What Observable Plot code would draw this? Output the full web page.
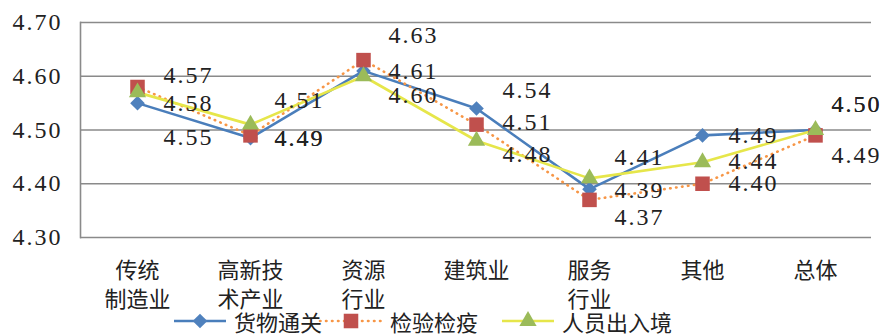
<!DOCTYPE html>
<html>
<head>
<meta charset="utf-8">
<script src="https://cdn.jsdelivr.net/npm/d3@7"></script>
<script src="https://cdn.jsdelivr.net/npm/@observablehq/plot@0.6"></script>
<style>
  html, body { margin: 0; padding: 0; background: #fff; }
  #wrap { position: relative; width: 884px; height: 335px; overflow: hidden; }
  #chart svg { overflow: visible; }
  #legend { position: absolute; left: 0; top: 306px; width: 884px; height: 29px; font-family: "Noto Sans CJK SC", sans-serif; font-size: 22px; color: #222; }
  #legend .item { position: absolute; top: 0; height: 29px; display: flex; align-items: center; }
  #legend svg { display: block; }
  #legend span { margin-left: 6px; line-height: 1; }
</style>
</head>
<body>
<div id="wrap">
  <div id="chart"></div>
  <div id="legend"></div>
</div>
<script>
// ---- data ----
const categories = ["传统\n制造业", "高新技\n术产业", "资源\n行业", "建筑业", "服务\n行业", "其他", "总体"];
const seriesNames = ["货物通关", "检验检疫", "人员出入境"];
const goodsClearance = [4.55, 4.485, 4.61, 4.54, 4.39, 4.49, 4.50];
const inspectionQuarantine = [4.58, 4.49, 4.63, 4.51, 4.37, 4.40, 4.49];
const personnelEntryExit = [4.57, 4.51, 4.60, 4.48, 4.41, 4.44, 4.50];
const yTicks = [4.30, 4.40, 4.50, 4.60, 4.70];

// ---- label layout (pixel offsets, not data) ----
const labelDx = [26, 24, 25, 26, 25, 26, 16];
const labelDy = [
  [34, 0, 0, -18, 1, 0, -26],
  [16, 3, -25, -2, 17, 0, 20],
  [-17, -24, 19, 14, -21, -1, -26]
];

const styles = [
  {stroke: "#4A7EBB", dash: null, symbol: "diamond2", fill: "#4F81BD", r: 6.6},
  {stroke: "#F79646", dash: "0.5 5.5", symbol: "square", fill: "#C0504D", r: 8.2},
  {stroke: "#E6E64A", dash: null, symbol: "triangle", fill: "#9BBB59", r: 6.4}
];

const valuesBySeries = [goodsClearance, inspectionQuarantine, personnelEntryExit];
const rows = valuesBySeries.map((vals, s) =>
  categories.map((c, i) => ({series: seriesNames[s], s, i, cat: c, value: vals[i],
    dx: labelDx[i], dy: labelDy[s][i]})));

const fmt = d3.format(".2f");
const numFont = "Liberation Serif";
const cjkFont = "Noto Sans CJK SC";

const marks = [
  Plot.gridY(yTicks, {stroke: "#8A8A8A", strokeOpacity: 1, strokeWidth: 1.6}),
  Plot.frame({anchor: "left", stroke: "#8A8A8A", strokeWidth: 1.6}),
  Plot.axisY(yTicks, {tickSize: 0, tickPadding: 18, fontSize: 24, fontFamily: numFont, fill: "#222", tickFormat: fmt}),
  Plot.axisX({tickSize: 0, tickPadding: 20, fontSize: 22, fontFamily: cjkFont, fill: "#222", lineHeight: 1.32, lineAnchor: "top"})
];

rows.forEach((data, s) => {
  const st = styles[s];
  marks.push(Plot.line(data, {x: "cat", y: "value", stroke: st.stroke, strokeWidth: 2.6,
    strokeDasharray: st.dash || undefined, strokeLinecap: s === 1 ? "round" : "butt"}));
});
rows.forEach((data, s) => {
  const st = styles[s];
  marks.push(Plot.dot(data, {x: "cat", y: "value", symbol: () => st.symbol, fill: st.fill, stroke: "none", r: st.r}));
});
rows.forEach((data, s) => {
  data.forEach(d => {
    marks.push(Plot.text([d], {x: "cat", y: "value", text: d => fmt(d.value), dx: d.dx, dy: d.dy,
      textAnchor: "start", fontSize: 24, fontFamily: numFont, fill: "#222"}));
  });
});

const chart = Plot.plot({
  width: 884,
  height: 308,
  marginLeft: 80,
  marginRight: 13,
  marginTop: 22,
  marginBottom: 71,
  style: {background: "#fff", color: "#222", overflow: "visible"},
  x: {type: "point", domain: categories, padding: 0.5, label: null},
  y: {domain: [4.3, 4.7], label: null},
  marks
});
document.getElementById("chart").appendChild(chart);

// inline font styling
d3.select(chart).selectAll("text").each(function () {
  const numeric = /^[0-9.]+$/.test(this.textContent.trim());
  const t = d3.select(this);
  if (numeric) {
    t.style("font-family", "'Liberation Serif', serif").style("letter-spacing", "2px");
  } else {
    t.style("font-family", "'Noto Sans CJK SC', sans-serif");
  }
});

// ---- legend ----
const legend = d3.select("#legend");
const legendPos = [172, 318, 500];
seriesNames.forEach((name, s) => {
  const st = styles[s];
  const item = legend.append("div").attr("class", "item").style("left", legendPos[s] + "px");
  const w = s === 1 ? 66 : 56;
  const sv = item.append("svg").attr("width", w).attr("height", 29);
  sv.append("line").attr("x1", 2).attr("x2", w - 2).attr("y1", 15).attr("y2", 15)
    .attr("stroke", st.stroke).attr("stroke-width", 2.6)
    .attr("stroke-dasharray", st.dash).attr("stroke-linecap", s === 1 ? "round" : "butt");
  const sym = {diamond2: d3.symbolDiamond2, square: d3.symbolSquare, triangle: d3.symbolTriangle}[st.symbol];
  sv.append("path").attr("transform", `translate(${w / 2},15)`)
    .attr("d", d3.symbol(sym, Math.PI * st.r * st.r)()).attr("fill", st.fill);
  item.append("span").text(name);
});
</script>
</body>
</html>
